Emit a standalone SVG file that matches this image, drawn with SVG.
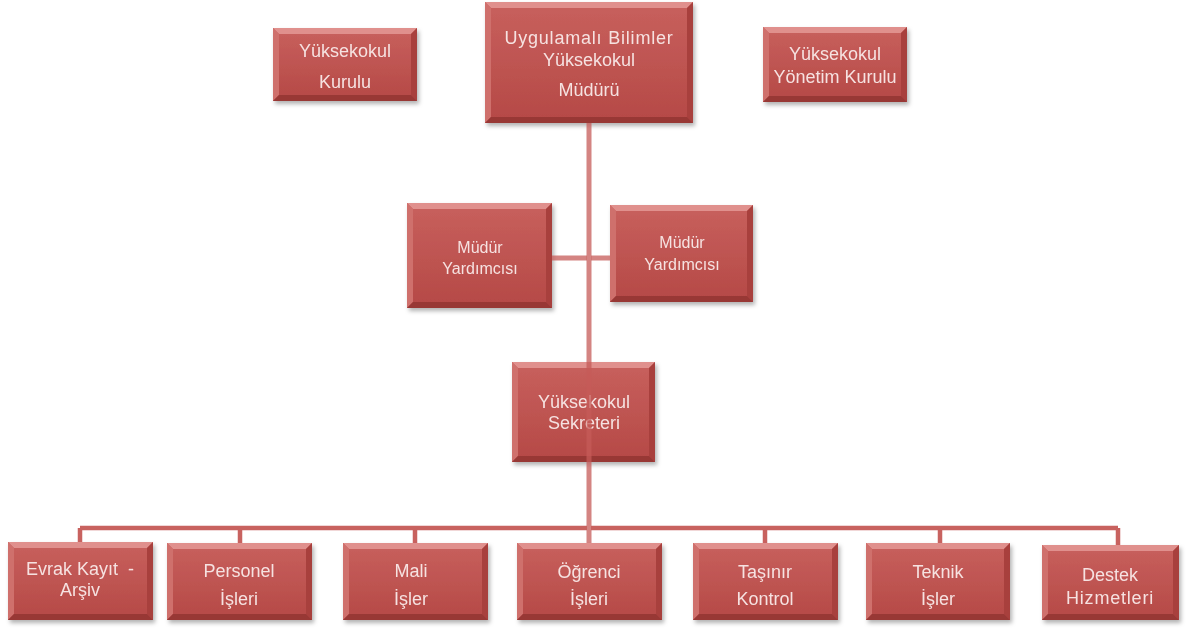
<svg xmlns="http://www.w3.org/2000/svg" width="1188" height="628" viewBox="0 0 1188 628">
<defs>
<linearGradient id="gFace" x1="0" y1="0" x2="0" y2="1">
<stop offset="0" stop-color="#c8605d"/>
<stop offset="1" stop-color="#b54946"/>
</linearGradient>
<filter id="sh" x="-10%" y="-10%" width="125%" height="130%">
<feDropShadow dx="2" dy="3" stdDeviation="2" flood-color="#000" flood-opacity="0.3"/>
</filter>
<style>
.face{fill:url(#gFace);}
.bt{fill:#e0908d;}
.bl{fill:#cf6f6c;}
.br{fill:#a8413e;}
.bb{fill:#983835;}
.node{filter:url(#sh);}
.lbl{font-family:"Liberation Sans",Arial,sans-serif;font-size:18px;fill:#f6e2e1;text-anchor:middle;}
.sm{font-size:16px;}
.wide{letter-spacing:0.8px;}
.conn{fill:none;stroke:#c65b58;stroke-width:5;stroke-opacity:0.75;}
.bus{fill:none;stroke:#c8625f;stroke-width:4.5;}
</style>
</defs>
<rect width="1188" height="628" fill="#ffffff"/>

<g id="nodes">
<g id="yuksekokul-kurulu" class="node" transform="translate(273,28)">
<rect class="face" width="144" height="73"/>
<polygon class="bt" points="0,0 144,0 138,6 6,6"/>
<polygon class="bl" points="0,0 6,6 6,67 0,73"/>
<polygon class="br" points="144,0 144,73 138,67 138,6"/>
<polygon class="bb" points="0,73 144,73 138,67 6,67"/>
<text class="lbl" x="72" y="29">Yüksekokul</text>
<text class="lbl" x="72" y="60">Kurulu</text>
</g>

<g id="mudur" class="node" transform="translate(485,2)">
<rect class="face" width="208" height="121"/>
<polygon class="bt" points="0,0 208,0 202,6 6,6"/>
<polygon class="bl" points="0,0 6,6 6,115 0,121"/>
<polygon class="br" points="208,0 208,121 202,115 202,6"/>
<polygon class="bb" points="0,121 208,121 202,115 6,115"/>
<text class="lbl wide" x="104" y="42">Uygulamalı Bilimler</text>
<text class="lbl" x="104" y="64">Yüksekokul</text>
<text class="lbl" x="104" y="94">Müdürü</text>
</g>

<g id="yonetim-kurulu" class="node" transform="translate(763,27)">
<rect class="face" width="144" height="75"/>
<polygon class="bt" points="0,0 144,0 138,6 6,6"/>
<polygon class="bl" points="0,0 6,6 6,69 0,75"/>
<polygon class="br" points="144,0 144,75 138,69 138,6"/>
<polygon class="bb" points="0,75 144,75 138,69 6,69"/>
<text class="lbl" x="72" y="33">Yüksekokul</text>
<text class="lbl" x="72" y="56">Yönetim Kurulu</text>
</g>

<g id="mudur-yardimcisi-1" class="node" transform="translate(407,203)">
<rect class="face" width="145" height="105"/>
<polygon class="bt" points="0,0 145,0 139,6 6,6"/>
<polygon class="bl" points="0,0 6,6 6,99 0,105"/>
<polygon class="br" points="145,0 145,105 139,99 139,6"/>
<polygon class="bb" points="0,105 145,105 139,99 6,99"/>
<text class="lbl sm" x="73" y="50">Müdür</text>
<text class="lbl sm" x="73" y="71">Yardımcısı</text>
</g>

<g id="mudur-yardimcisi-2" class="node" transform="translate(610,205)">
<rect class="face" width="143" height="97"/>
<polygon class="bt" points="0,0 143,0 137,6 6,6"/>
<polygon class="bl" points="0,0 6,6 6,91 0,97"/>
<polygon class="br" points="143,0 143,97 137,91 137,6"/>
<polygon class="bb" points="0,97 143,97 137,91 6,91"/>
<text class="lbl sm" x="72" y="43">Müdür</text>
<text class="lbl sm" x="72" y="65">Yardımcısı</text>
</g>

<g id="sekreter" class="node" transform="translate(512,362)">
<rect class="face" width="143" height="100"/>
<polygon class="bt" points="0,0 143,0 137,6 6,6"/>
<polygon class="bl" points="0,0 6,6 6,94 0,100"/>
<polygon class="br" points="143,0 143,100 137,94 137,6"/>
<polygon class="bb" points="0,100 143,100 137,94 6,94"/>
<text class="lbl" x="72" y="46">Yüksekokul</text>
<text class="lbl" x="72" y="67">Sekreteri</text>
</g>

<g id="evrak-kayit" class="node" transform="translate(8,542)">
<rect class="face" width="145" height="78"/>
<polygon class="bt" points="0,0 145,0 139,6 6,6"/>
<polygon class="bl" points="0,0 6,6 6,72 0,78"/>
<polygon class="br" points="145,0 145,78 139,72 139,6"/>
<polygon class="bb" points="0,78 145,78 139,72 6,72"/>
<text class="lbl" x="72" y="33" xml:space="preserve">Evrak Kayıt  -</text>
<text class="lbl" x="72" y="54">Arşiv</text>
</g>

<g id="personel" class="node" transform="translate(167,543)">
<rect class="face" width="145" height="77"/>
<polygon class="bt" points="0,0 145,0 139,6 6,6"/>
<polygon class="bl" points="0,0 6,6 6,71 0,77"/>
<polygon class="br" points="145,0 145,77 139,71 139,6"/>
<polygon class="bb" points="0,77 145,77 139,71 6,71"/>
<text class="lbl" x="72" y="34">Personel</text>
<text class="lbl" x="72" y="62">İşleri</text>
</g>

<g id="mali" class="node" transform="translate(343,543)">
<rect class="face" width="145" height="77"/>
<polygon class="bt" points="0,0 145,0 139,6 6,6"/>
<polygon class="bl" points="0,0 6,6 6,71 0,77"/>
<polygon class="br" points="145,0 145,77 139,71 139,6"/>
<polygon class="bb" points="0,77 145,77 139,71 6,71"/>
<text class="lbl" x="68" y="34">Mali</text>
<text class="lbl" x="68" y="62">İşler</text>
</g>

<g id="ogrenci" class="node" transform="translate(517,543)">
<rect class="face" width="145" height="77"/>
<polygon class="bt" points="0,0 145,0 139,6 6,6"/>
<polygon class="bl" points="0,0 6,6 6,71 0,77"/>
<polygon class="br" points="145,0 145,77 139,71 139,6"/>
<polygon class="bb" points="0,77 145,77 139,71 6,71"/>
<text class="lbl" x="72" y="35">Öğrenci</text>
<text class="lbl" x="72" y="62">İşleri</text>
</g>

<g id="tasinir" class="node" transform="translate(693,543)">
<rect class="face" width="145" height="77"/>
<polygon class="bt" points="0,0 145,0 139,6 6,6"/>
<polygon class="bl" points="0,0 6,6 6,71 0,77"/>
<polygon class="br" points="145,0 145,77 139,71 139,6"/>
<polygon class="bb" points="0,77 145,77 139,71 6,71"/>
<text class="lbl" x="72" y="35">Taşınır</text>
<text class="lbl" x="72" y="62">Kontrol</text>
</g>

<g id="teknik" class="node" transform="translate(866,543)">
<rect class="face" width="144" height="77"/>
<polygon class="bt" points="0,0 144,0 138,6 6,6"/>
<polygon class="bl" points="0,0 6,6 6,71 0,77"/>
<polygon class="br" points="144,0 144,77 138,71 138,6"/>
<polygon class="bb" points="0,77 144,77 138,71 6,71"/>
<text class="lbl" x="72" y="35">Teknik</text>
<text class="lbl" x="72" y="62">İşler</text>
</g>

<g id="destek" class="node" transform="translate(1042,545)">
<rect class="face" width="137" height="75"/>
<polygon class="bt" points="0,0 137,0 131,6 6,6"/>
<polygon class="bl" points="0,0 6,6 6,69 0,75"/>
<polygon class="br" points="137,0 137,75 131,69 131,6"/>
<polygon class="bb" points="0,75 137,75 131,69 6,69"/>
<text class="lbl" x="68" y="36">Destek</text>
<text class="lbl wide" x="68" y="59">Hizmetleri</text>
</g>
</g>

<g id="connectors">
<path class="conn" d="M589,123 V543"/>
<path class="conn" d="M552,258 H587 M591,258 H610"/>
<path class="bus" d="M80,528 H587 M591,528 H1118"/>
<path class="bus" d="M80,528 V542 M240,528 V543 M415,528 V543 M765,528 V543 M940,528 V543 M1118,528 V545"/>
</g>
</svg>
